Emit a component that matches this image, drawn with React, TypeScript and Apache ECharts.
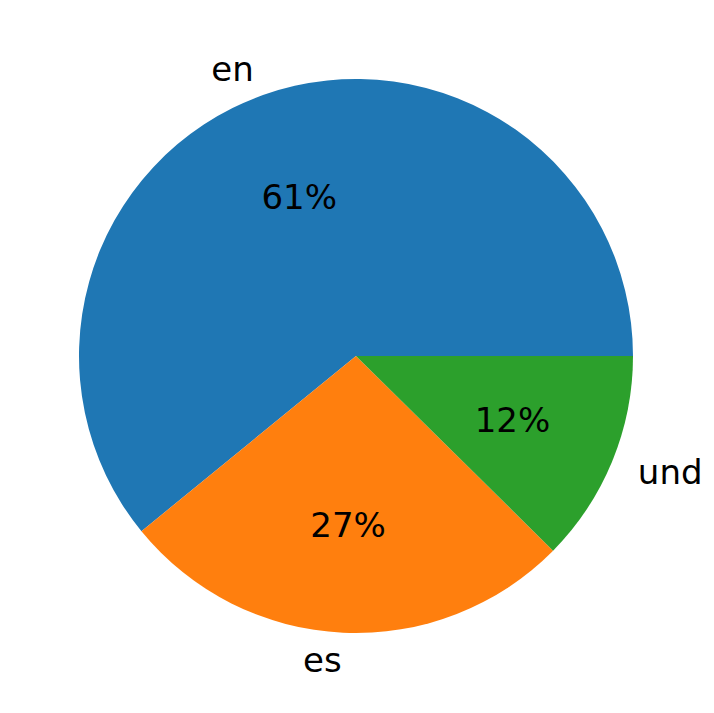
import React, { useEffect, useRef } from "react";
import * as echarts from "echarts";

const categories = ["en", "es", "und"];
const values = [60.9, 26.7, 12.4];
const pctLabels = ["61%", "27%", "12%"];
const colors = ["#1f77b4", "#ff7f0e", "#2ca02c"];

export default function App() {
  const ref = useRef<HTMLDivElement>(null);
  useEffect(() => {
    if (!ref.current) return;
    const chart = echarts.init(ref.current, null, { renderer: "svg" });
    const R = 277;
    const font = "DejaVu Sans";
    chart.setOption({
      animation: false,
      backgroundColor: "#ffffff",
      series: [
        {
          type: "pie",
          center: [356, 356],
          radius: [0, R],
          startAngle: 0,
          clockwise: false,
          avoidLabelOverlap: false,
          silent: true,
          data: categories.map((c, i) => ({
            name: c,
            value: values[i],
            itemStyle: { color: colors[i] },
          })),
          label: {
            show: true,
            position: "outside",
            formatter: "{b}",
            fontFamily: font,
            fontSize: 34,
            color: "#000",
            distanceToLabelLine: 0,
          },
          labelLine: { show: false, length: R * 0.1, length2: 0 },
          itemStyle: { borderWidth: 0 },
        },
        {
          type: "pie",
          center: [356, 356],
          radius: [0, R * 1.2],
          startAngle: 0,
          clockwise: false,
          avoidLabelOverlap: false,
          silent: true,
          z: 5,
          data: categories.map((c, i) => ({
            name: c,
            value: values[i],
            itemStyle: { color: "rgba(0,0,0,0)" },
            label: { formatter: pctLabels[i] },
          })),
          label: {
            show: true,
            position: "inside",
            fontFamily: font,
            fontSize: 34,
            color: "#000",
          },
          labelLine: { show: false },
          itemStyle: { borderWidth: 0 },
        },
      ],
    });
    return () => chart.dispose();
  }, []);
  return (
    <div
      ref={ref}
      style={{ position: "absolute", left: 0, top: 0, width: 714, height: 713 }}
    />
  );
}
